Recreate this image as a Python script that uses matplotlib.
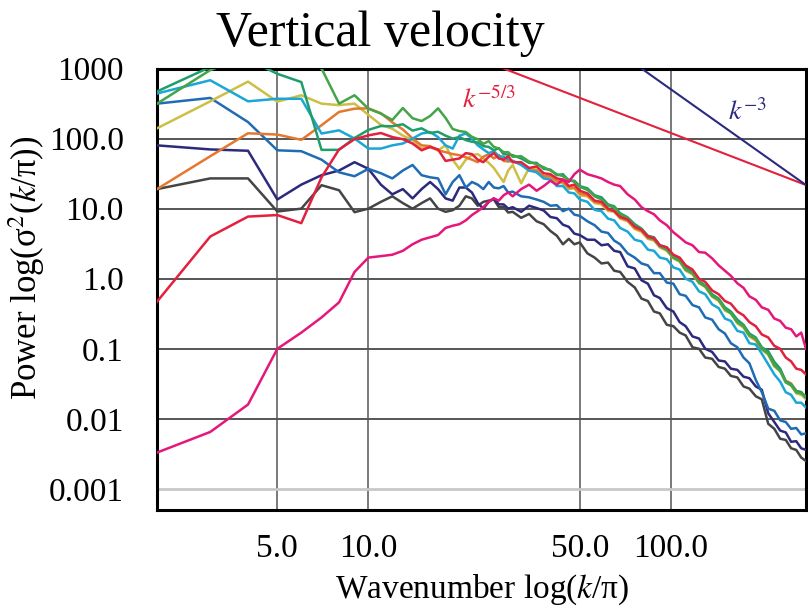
import matplotlib
matplotlib.use("Agg")
from matplotlib import pyplot as plt

plt.rcParams['font.family'] = 'serif'
plt.rcParams['font.serif'] = ['Liberation Serif', 'DejaVu Serif']
plt.rcParams['mathtext.fontset'] = 'stix'

# wavenumber k/pi
k = [2, 3, 4, 5, 6, 7, 8,
     9, 10, 11, 12, 13, 14, 15,
     16, 17, 18, 19, 20, 21, 22,
     23, 24, 25, 26, 27, 28, 29, 30,
     32, 34, 36, 38, 40, 42, 44, 46, 48, 50,
     53, 56, 59, 62, 65, 68,
     72, 76, 80, 84, 88, 92,
     97, 102, 107, 112, 118, 124, 130,
     137, 144, 151, 158, 166, 174, 182, 191, 200,
     210, 220, 230, 240, 250, 260, 270, 280]

pink = [0.0033, 0.0065, 0.016, 0.10, 0.17, 0.28, 0.46,
        1.25, 2.0, 2.1, 2.2, 2.5, 3.1, 3.6,
        3.9, 4.2, 5.3, 5.7, 6.0, 6.8, 8.1,
        9.2, 10.5, 12.5, 14, 13, 15.5, 17, 15,
        19, 22, 18, 21, 25, 22, 26, 24, 31, 36,
        31, 29, 27, 24, 22, 21,
        16, 13.5, 10.5, 9.2, 8.3, 6.8,
        5.8, 4.6, 3.9, 3.3, 3.0, 2.4, 2.35,
        1.95, 1.55, 1.3, 1.1, 0.86, 0.74, 0.56, 0.5, 0.39,
        0.36, 0.27, 0.25, 0.2, 0.19, 0.15, 0.17, 0.1]

red = [0.47, 4.0, 7.7, 8.1, 6.2, 28, 70,
       98, 111, 120, 105, 98, 85, 68,
       76, 70, 48, 50, 52, 62, 60,
       50, 46, 55, 62, 52, 50, 56, 46,
       46, 38, 40, 32, 31, 27, 26, 21, 22, 18,
       16.5, 13, 12.5, 10, 9.2, 7.6,
       7.0, 5.5, 5.0, 4.0, 3.8, 3.0,
       2.8, 2.2, 2.0, 1.55, 1.35, 1.0, 0.9,
       0.68, 0.6, 0.48, 0.44, 0.34, 0.3, 0.24, 0.21, 0.16,
       0.145, 0.11, 0.1, 0.075, 0.066, 0.052, 0.05, 0.043]

green_a = [470, 1050, 1340, 840, 640, 69, 69,
           102, 133, 151, 150, 160, 130, 140,
           120, 125, 110, 100, 105, 95, 90,
           88, 78, 76, 68, 73, 60, 59, 58,
           52, 45, 45, 37, 36, 30, 31, 25, 25, 21,
           19.5, 15.5, 14.5, 11.5, 10.8, 8.6,
           7.5, 6.0, 5.2, 4.1, 3.9, 3.0,
           2.8, 2.1, 1.9, 1.45, 1.25, 0.92, 0.8,
           0.6, 0.52, 0.39, 0.34, 0.26, 0.22, 0.165, 0.145, 0.105,
           0.092, 0.065, 0.052, 0.034, 0.031, 0.025, 0.024, 0.02]

green_b = [315, 950, 1500, 1600, 1300, 1000, 315,
           415, 267, 227, 184, 273, 195, 178,
           210, 270, 197, 137, 128, 124, 106,
           98, 84, 92, 76, 72, 64, 64, 55,
           56, 47, 43, 39, 35, 31, 29, 26, 24, 20.5,
           18.5, 15, 13.5, 11, 10.4, 8.2,
           7.3, 5.6, 5.1, 3.9, 3.7, 2.9,
           2.6, 2.0, 1.8, 1.35, 1.2, 0.88, 0.78,
           0.57, 0.5, 0.37, 0.32, 0.24, 0.21, 0.155, 0.14, 0.1,
           0.085, 0.058, 0.048, 0.033, 0.03, 0.024, 0.023, 0.021]

cyan = [440, 680, 340, 370, 370, 118, 131,
        100, 72, 72, 80, 85, 100, 118,
        124, 105, 80, 72, 110, 118, 100,
        80, 70, 62, 66, 56, 55, 50, 48,
        42, 35, 33, 27, 26, 21, 21, 17, 16.5, 13.5,
        12.5, 9.6, 9.2, 7.2, 6.8, 5.3,
        4.7, 3.6, 3.4, 2.6, 2.5, 2.0,
        1.9, 1.45, 1.35, 1.0, 0.9, 0.66, 0.6,
        0.43, 0.38, 0.27, 0.25, 0.18, 0.17, 0.12, 0.115, 0.085,
        0.06, 0.043, 0.034, 0.024, 0.022, 0.017, 0.017, 0.0145]

orange = [19, 56, 119, 114, 96, 155, 240,
          267, 270, 230, 170, 135, 100, 80,
          78, 68, 64, 60, 58, 54, 50,
          46, 55, 60, 52, 58, 48, 47, 48,
          43, 35, 35, 29, 29, 25, 24, 20, 20, 16.5,
          15.5, 12.5, 12, 9.6, 9.4, 7.5,
          6.8, 5.3, 4.8, 3.8, 3.6, 2.9,
          2.6, 2.0, 1.8, 1.35, 1.2, 0.88, 0.78,
          0.57, 0.5, 0.37, 0.33, 0.24, 0.21, 0.155, 0.135, 0.1,
          0.085, 0.058, 0.05, 0.035, 0.032, 0.025, 0.024, 0.02]

yellow = [140, 340, 650, 336, 415, 315, 300,
          315, 218, 157, 138, 110, 95, 72,
          75, 68, 80, 50, 37, 50, 58,
          60, 52, 45, 38, 30, 24, 35, 42,
          23, 38, 36, 29, 28, 24, 23, 19, 19.5, 15.5,
          15, 12, 11.5, 9.3, 9.0, 7.2,
          6.6, 5.1, 4.7, 3.7, 3.5, 2.8,
          2.5, 1.95, 1.75, 1.3, 1.15, 0.86, 0.76,
          0.55, 0.48, 0.35, 0.32, 0.23, 0.2, 0.15, 0.13, 0.098,
          0.082, 0.056, 0.048, 0.034, 0.03, 0.023, 0.022, 0.019]

blue = [315, 380, 172, 68, 66, 50, 33,
        29, 37, 32, 27, 35, 42, 30,
        28, 27, 16, 24, 30, 20, 24,
        22, 19, 24, 20, 19.5, 21, 17, 17.5,
        15, 14.5, 13.5, 12.5, 11, 11.2, 9.2, 10, 8.2, 7.9,
        6.6, 5.8, 4.7, 4.5, 3.5, 3.1,
        2.3, 2.0, 1.65, 1.55, 1.2, 1.2,
        0.88, 0.85, 0.6, 0.57, 0.42, 0.39, 0.28,
        0.26, 0.19, 0.165, 0.12, 0.105, 0.075, 0.062, 0.036, 0.024,
        0.014, 0.013, 0.0095, 0.009, 0.0072, 0.0074, 0.006, 0.0062]

navy = [80, 70, 67, 13.5, 22, 30, 35,
        46, 37, 22, 16, 19, 14, 19,
        24, 19, 14, 13, 20, 20, 17,
        12, 10, 12.5, 14, 11.5, 11.5, 10, 10.5,
        9, 11, 10.2, 9.4, 7.6, 7.3, 5.9, 5.5, 4.4, 4.2,
        3.6, 3.6, 3.0, 3.1, 2.5, 2.4,
        1.5, 1.4, 0.95, 0.85, 0.58, 0.53,
        0.38, 0.34, 0.24, 0.21, 0.15, 0.14, 0.1,
        0.09, 0.068, 0.066, 0.052, 0.05, 0.04, 0.038, 0.029, 0.026,
        0.012, 0.009, 0.0068, 0.0064, 0.0047, 0.0048, 0.0038, 0.0036]

grey = [19, 27, 27, 9.1, 10, 21.6, 18.3,
        8.9, 10, 12.5, 15, 12, 10, 12,
        14, 10, 9, 9.5, 11, 15, 14,
        11, 12.5, 13, 13.5, 10.5, 10.5, 8.8, 9,
        7.4, 8.4, 6.6, 6, 4.8, 4.1, 3.1, 3.7, 3.1, 3.3,
        2.3, 2.0, 1.65, 1.7, 1.3, 1.25,
        0.9, 0.75, 0.52, 0.48, 0.34, 0.32,
        0.22, 0.21, 0.17, 0.155, 0.105, 0.1, 0.075,
        0.072, 0.055, 0.052, 0.041, 0.039, 0.029, 0.027, 0.021, 0.019,
        0.0085, 0.0072, 0.0052, 0.005, 0.0038, 0.0036, 0.0028, 0.0025]

# reference slopes (end points)
slope53_k = [28, 280]
slope53_p = [1000, 21.7]
slope3_k = [80, 280]
slope3_p = [1000, 21.7]

x_ticks = [5, 10, 50, 100]
x_ticklabels = ['5.0', '10.0', '50.0', '100.0']
y_ticks = [0.001, 0.01, 0.1, 1, 10, 100, 1000]
y_ticklabels = ['0.001', '0.01', '0.1', '1.0', '10.0', '100.0', '1000']

series = [(grey, '#454545'), (navy, '#2d2a7e'), (blue, '#1f6cb4'),
          (yellow, '#cdbf45'), (orange, '#e4782f'), (cyan, '#1aa6d6'),
          (green_a, '#1f9d6b'), (green_b, '#43a548'), (red, '#e3203e'),
          (pink, '#e5177b')]

fig = plt.figure(figsize=(8.08, 6.10), dpi=100)
ax = fig.add_axes([157/808, 1-510/610, (806-157)/808, (510-68.5)/610])
ax.set_xscale('log')
ax.set_yscale('log')
ax.set_xlim(2, 280)
ax.set_ylim(5e-4, 1000)

for v in x_ticks:
    ax.axvline(v, color='#555555', lw=1.1, zorder=1)
for v in y_ticks[1:-1]:
    ax.axhline(v, color='#555555', lw=1.4, zorder=1)
ax.axhline(0.001, color='#c8c8c8', lw=2.0, zorder=1)

for vals, c in series:
    ax.plot(k, vals, color=c, lw=1.8, zorder=3)

ax.plot(slope53_k, slope53_p, color='#e3203e', lw=1.5, zorder=4)
ax.plot(slope3_k, slope3_p, color='#2b2a80', lw=1.5, zorder=4)
ax.text(25, 350, r'$k^{-5/3}$', color='#e3203e', fontsize=20, ha='center', va='center')
ax.text(180, 235, r'$k^{-3}$', color='#2b2a80', fontsize=20, ha='center', va='center')

ax.set_xticks(x_ticks)
ax.set_xticklabels(x_ticklabels)
ax.set_yticks(y_ticks)
ax.set_yticklabels(y_ticklabels)
ax.xaxis.set_minor_locator(plt.NullLocator())
ax.yaxis.set_minor_locator(plt.NullLocator())
ax.tick_params(axis='x', length=0, labelsize=24, pad=17)
ax.tick_params(axis='y', length=0, labelsize=24, pad=24)
for s in ax.spines.values():
    s.set_linewidth(2.2)
    s.set_color('black')

fig.text(380/808, 1-34/610, 'Vertical velocity', fontsize=36, ha='center', va='center')
fig.text(482/808, 1-590/610, 'Wavenumber log($k$/π)', fontsize=24, ha='center', va='center')
fig.text(27/808, 1-268/610, 'Power log(σ$^2$($k$/π))', fontsize=25, rotation=90,
         ha='center', va='center')

fig.savefig('out.png', dpi=100)
